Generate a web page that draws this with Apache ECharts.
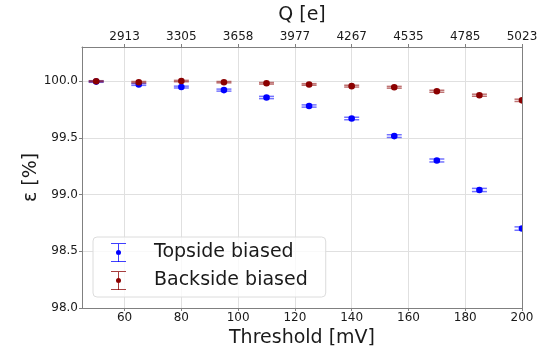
<!DOCTYPE html>
<html>
<head>
<meta charset="utf-8">
<script src="https://cdn.jsdelivr.net/npm/echarts@6/dist/echarts.min.js"></script>
<style>
  html, body { margin: 0; padding: 0; background: #fff; }
  #chart { width: 547px; height: 346px; }
</style>
</head>
<body>
<div id="chart"></div>
<script>
// ---- data ----
const threshold = [50, 65, 80, 95, 110, 125, 140, 155, 170, 185, 200];
const topside = [99.995, 99.97, 99.947, 99.92, 99.855, 99.78, 99.67, 99.515, 99.30, 99.04, 98.70];
const topsideErr = [0.006, 0.008, 0.008, 0.009, 0.01, 0.01, 0.011, 0.012, 0.013, 0.014, 0.015];
const backside = [99.998, 99.99, 100.0, 99.99, 99.98, 99.97, 99.955, 99.945, 99.91, 99.875, 99.83];
const backsideErr = [0.005, 0.006, 0.006, 0.006, 0.007, 0.007, 0.008, 0.008, 0.009, 0.009, 0.01];
const bottomTicks = [60, 80, 100, 120, 140, 160, 180, 200];
const topLabels = ['2913', '3305', '3658', '3977', '4267', '4535', '4785', '5023'];

const FONT = 'DejaVu Sans';
const BLUE = '#0000ff';
const RED = '#8b0000';

// errorbar + dot legend icon
const errIcon = 'path://M0,0H24V1.2H0Z M11.4,0H12.6V11H11.4Z M11.4,19H12.6V30H11.4Z M0,28.8H24V30H0Z ' +
    'M16,15A4,4 0 1,1 8,15A4,4 0 1,1 16,15Z';

function errorSeries(name, ys, errs, color) {
    const data = threshold.map((x, i) => [x, ys[i], ys[i] - errs[i], ys[i] + errs[i]]);
    return {
        name: name,
        type: 'custom',
        clip: true,
        color: color,
        data: data,
        encode: { x: 0, y: [1, 2, 3] },
        renderItem: function (params, api) {
            const x = api.value(0);
            const c = api.coord([x, api.value(1)]);
            const lo = api.coord([x, api.value(2)]);
            const hi = api.coord([x, api.value(3)]);
            const hw = 7.5;
            const lineStyle = { stroke: color, lineWidth: 1.5, opacity: 0.55 };
            return {
                type: 'group',
                children: [
                    { type: 'line', shape: { x1: lo[0], y1: lo[1], x2: hi[0], y2: hi[1] }, style: lineStyle },
                    { type: 'line', shape: { x1: lo[0] - hw, y1: lo[1], x2: lo[0] + hw, y2: lo[1] }, style: lineStyle },
                    { type: 'line', shape: { x1: hi[0] - hw, y1: hi[1], x2: hi[0] + hw, y2: hi[1] }, style: lineStyle },
                    { type: 'circle', shape: { cx: c[0], cy: c[1], r: 3.3 }, style: { fill: color } }
                ]
            };
        }
    };
}

const chart = echarts.init(document.getElementById('chart'), null, { renderer: 'canvas' });

const option = {
    animation: false,
    textStyle: { fontFamily: FONT },
    grid: { left: 82, right: 25, top: 47, bottom: 38, show: false, outerBoundsMode: 'none', containLabel: false },
    legend: {
        orient: 'vertical',
        left: 93,
        top: 237,
        width: 226,
        padding: [6, 18, 7, 18],
        itemGap: 9,
        itemWidth: 15,
        itemHeight: 20,
        backgroundColor: 'rgba(255,255,255,0.8)',
        borderColor: '#dcdcdc',
        borderWidth: 1,
        borderRadius: 4,
        textStyle: { fontFamily: FONT, fontSize: 19, color: '#1a1a1a', padding: [0, 0, 0, 23] },
        data: [
            { name: 'Topside biased', icon: errIcon },
            { name: 'Backside biased', icon: errIcon }
        ]
    },
    xAxis: [
        {
            type: 'value',
            position: 'bottom',
            min: 45,
            max: 200,
            name: 'Threshold [mV]',
            nameLocation: 'middle',
            nameGap: 12,
            nameTextStyle: { fontFamily: FONT, fontSize: 19, color: '#1a1a1a', verticalAlign: 'top' },
            axisLine: { show: true, onZero: false, lineStyle: { color: '#808080', width: 1 } },
            axisTick: { show: true, length: 3, customValues: bottomTicks, lineStyle: { color: '#808080' } },
            axisLabel: { customValues: bottomTicks, fontSize: 12, color: '#1a1a1a', margin: 4, fontFamily: FONT },
            splitLine: { show: true, lineStyle: { color: '#e0e0e0', width: 1 } }
        },
        {
            type: 'value',
            position: 'top',
            min: 45,
            max: 200,
            name: 'Q [e]',
            nameLocation: 'middle',
            nameGap: 22,
            nameTextStyle: { fontFamily: FONT, fontSize: 19, color: '#1a1a1a' },
            axisLine: { show: true, lineStyle: { color: '#808080', width: 1 } },
            axisTick: { show: true, length: 3, customValues: bottomTicks, lineStyle: { color: '#808080' } },
            axisLabel: {
                customValues: bottomTicks,
                fontSize: 12,
                color: '#1a1a1a',
                margin: 4,
                fontFamily: FONT,
                formatter: function (v) {
                    const i = bottomTicks.indexOf(v);
                    return i >= 0 ? topLabels[i] : '';
                }
            },
            splitLine: { show: false }
        }
    ],
    yAxis: [
        {
            type: 'value',
            min: 98.0,
            max: 100.3,
            interval: 0.5,
            name: 'ε [%]',
            nameLocation: 'middle',
            nameGap: 41,
            nameMoveOverlap: false,
            nameTextStyle: { fontFamily: FONT, fontSize: 19, color: '#1a1a1a' },
            axisLine: { show: true, lineStyle: { color: '#808080', width: 1 } },
            axisTick: { show: true, length: 3, lineStyle: { color: '#808080' } },
            axisLabel: {
                fontSize: 12, color: '#1a1a1a', margin: 4, fontFamily: FONT, showMaxLabel: false,
                formatter: function (v) { return v.toFixed(1); }
            },
            splitLine: { show: true, lineStyle: { color: '#e0e0e0', width: 1 } }
        },
        {
            type: 'value',
            position: 'right',
            min: 98.0,
            max: 100.3,
            interval: 0.5,
            axisLine: { show: true, lineStyle: { color: '#808080', width: 1 } },
            axisTick: { show: false },
            axisLabel: { show: false },
            splitLine: { show: false }
        }
    ],
    series: [
        errorSeries('Topside biased', topside, topsideErr, BLUE),
        errorSeries('Backside biased', backside, backsideErr, RED)
    ]
};

chart.setOption(option);
</script>
</body>
</html>
